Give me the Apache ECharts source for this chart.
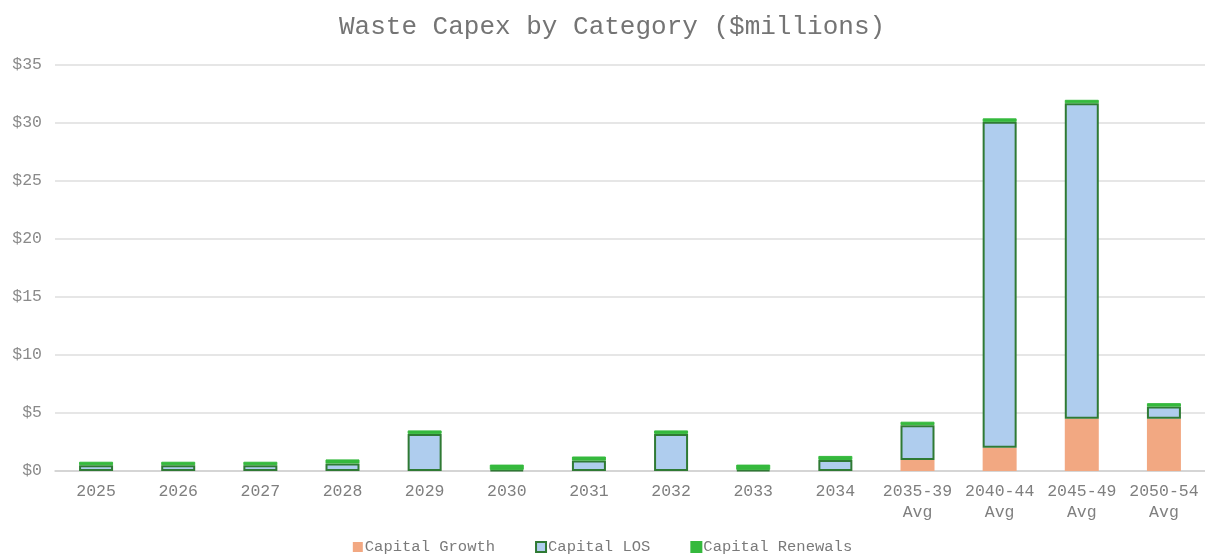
<!DOCTYPE html>
<html>
<head>
<meta charset="utf-8">
<script src="https://cdn.jsdelivr.net/npm/echarts@6/dist/echarts.min.js"></script>
<style>
  html, body { margin: 0; padding: 0; background: #ffffff; }
  #chart { width: 1205px; height: 555px; }
</style>
</head>
<body>
<div id="chart"></div>
<script>
// Waste capital expenditure by category, $ millions
const categories = ['2025', '2026', '2027', '2028', '2029', '2030', '2031', '2032', '2033', '2034',
  '2035-39\nAvg', '2040-44\nAvg', '2045-49\nAvg', '2050-54\nAvg'];
const capitalGrowth   = [0, 0, 0, 0, 0, 0, 0, 0, 0, 0, 0.95, 2.0, 4.5, 4.5];
const capitalLOS      = [0.5, 0.5, 0.5, 0.65, 3.2, 0.1, 0.9, 3.2, 0.1, 0.95, 3.0, 28.1, 27.2, 1.05];
const capitalRenewals = [0.3, 0.3, 0.3, 0.35, 0.3, 0.45, 0.35, 0.3, 0.45, 0.35, 0.3, 0.3, 0.3, 0.3];
const yTicks = { min: 0, max: 35, interval: 5 };

const FONT = '"Liberation Mono", "Courier New", monospace';
const chart = echarts.init(document.getElementById('chart'), null, { renderer: 'canvas' });

chart.setOption({
  backgroundColor: '#ffffff',
  animation: false,
  textStyle: { fontFamily: FONT },
  title: {
    text: 'Waste Capex by Category ($millions)',
    left: 334,
    top: 8,
    textStyle: { fontFamily: FONT, fontSize: 26, fontWeight: 'normal', color: '#747474', lineHeight: 28 }
  },
  legend: {
    bottom: 0,
    left: 'center',
    padding: [0, 0, 0, 0],
    itemWidth: 10,
    itemHeight: 10,
    itemGap: 40,
    icon: 'rect',
    textStyle: { fontFamily: FONT, fontSize: 15.5, color: '#7a7a7a', padding: [0, 0, 0, -3], lineHeight: 16 },
    data: ['Capital Growth', 'Capital LOS', 'Capital Renewals']
  },
  grid: { left: 55, right: 0, top: 65, bottom: 84, containLabel: false },
  xAxis: {
    type: 'category',
    data: categories,
    axisLine: { lineStyle: { color: '#d0d0d0', width: 1.5 } },
    axisTick: { show: false },
    axisLabel: { fontFamily: FONT, fontSize: 16.5, color: '#7f7f7f', margin: 10, lineHeight: 21, interval: 0 }
  },
  yAxis: {
    type: 'value',
    min: yTicks.min,
    max: yTicks.max,
    interval: yTicks.interval,
    axisLine: { show: false },
    axisTick: { show: false },
    splitLine: { lineStyle: { color: '#dedede', width: 1.5 } },
    axisLabel: { fontFamily: FONT, fontSize: 16.5, color: '#8a8a8a', margin: 13, formatter: v => '$' + v }
  },
  series: [
    {
      name: 'Capital Growth',
      type: 'bar',
      stack: 'capex',
      barWidth: 34,
      data: capitalGrowth,
      itemStyle: { color: '#f2a882' }
    },
    {
      name: 'Capital LOS',
      type: 'bar',
      stack: 'capex',
      barWidth: 34,
      data: capitalLOS,
      itemStyle: { color: '#afcdee', borderColor: '#2f7a34', borderWidth: 2 }
    },
    {
      name: 'Capital Renewals',
      type: 'bar',
      stack: 'capex',
      barWidth: 34,
      data: capitalRenewals,
      itemStyle: { color: '#35b93d', borderColor: '#35b93d', borderWidth: 1 }
    }
  ]
});
</script>
</body>
</html>
